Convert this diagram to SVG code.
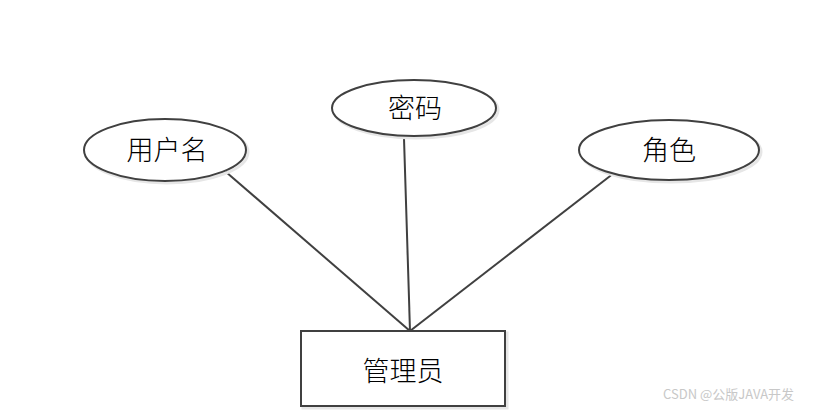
<svg xmlns="http://www.w3.org/2000/svg" width="824" height="410" viewBox="0 0 824 410">
<style>
.n{fill:#fff;stroke:#404040;stroke-width:2}
.sh{fill:none;stroke:#e6e6e6;stroke-width:3}
.t{font-family:"Noto Sans CJK SC","Noto Sans CJK JP",sans-serif;font-size:27px;font-weight:300;fill:#000;text-anchor:middle;dominant-baseline:central}
.c{stroke:#404040;stroke-width:2;fill:none}
.w{font-family:"Noto Sans CJK SC",sans-serif;font-size:13px;fill:#c8c8c8}
</style>
<rect width="824" height="410" fill="#fff"/>
<g id="connectors">
<line class="c" x1="226" y1="172" x2="410" y2="331"/>
<line class="c" x1="404" y1="138" x2="410" y2="331"/>
<line class="c" x1="614" y1="173" x2="410" y2="331"/>
</g>
<g id="node-username">
<ellipse class="sh" cx="167" cy="152" rx="81" ry="31"/>
<ellipse class="n" cx="165" cy="150" rx="81" ry="31"/>
<text class="t" x="167" y="148">用户名</text>
</g>
<g id="node-password">
<ellipse class="sh" cx="416" cy="110" rx="82" ry="28"/>
<ellipse class="n" cx="414" cy="108" rx="82" ry="28"/>
<text class="t" x="415" y="106">密码</text>
</g>
<g id="node-role">
<ellipse class="sh" cx="671" cy="152" rx="90" ry="30"/>
<ellipse class="n" cx="669" cy="150" rx="90" ry="30"/>
<text class="t" x="669" y="148">角色</text>
</g>
<g id="node-admin">
<rect class="sh" x="303" y="333" width="204" height="75"/>
<rect class="n" x="301" y="331" width="204" height="75"/>
<text class="t" x="403" y="369">管理员</text>
</g>
<text class="w" x="663" y="399">CSDN @公版JAVA开发</text>
</svg>
